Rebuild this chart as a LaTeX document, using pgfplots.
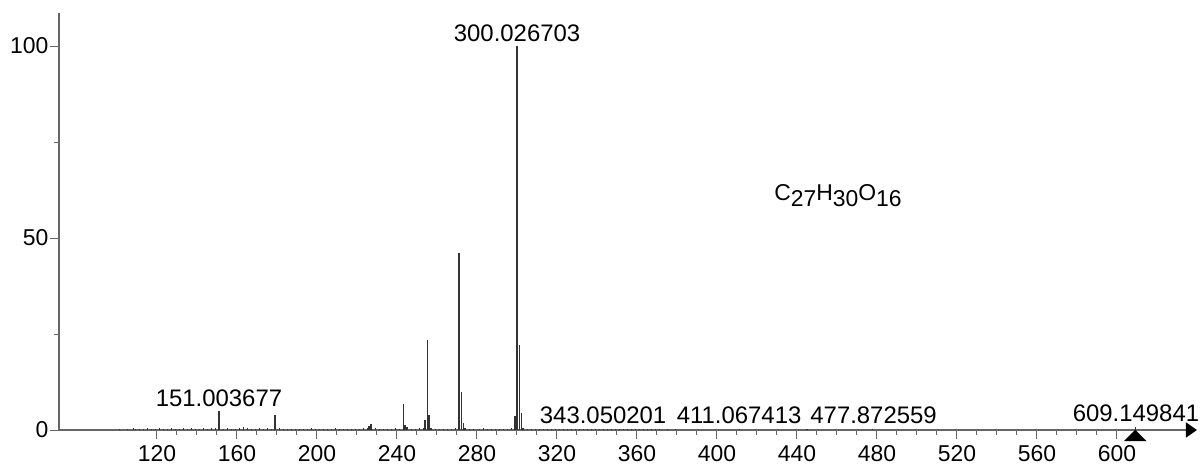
\documentclass[border=0pt]{standalone}
\usepackage{pgfplots}
\pgfplotsset{compat=1.18}
\usepackage{fontspec}
\setmainfont{Liberation Sans}
\usetikzlibrary{arrows.meta}

\begin{document}
\begin{tikzpicture}
\begin{axis}[
  scale only axis, width=1138bp, height=416.6bp,
  xmin=71, xmax=640, ymin=0, ymax=108.5,
  axis x line*=bottom, axis y line*=left,
  axis line style={draw=black!60, line width=1.2bp},
  x axis line style={-{Triangle[length=11bp,width=15bp,color=black]}},
  tick align=outside,
  xtick={120,160,...,600}, minor x tick num=3,
  ytick={0,50,100}, minor ytick={25,75},
  major tick length=9bp, minor tick length=5bp,
  every tick/.style={draw=black!60, line width=1bp},
  tick label style={font=\fontsize{23}{27}\selectfont, inner sep=1.5bp},
  xticklabel style={yshift=-5bp},
  /pgf/number format/assume math mode=true,
  clip=false,
]
% background noise
\addplot[ycomb, black!80, line width=0.7bp, no marks] coordinates {
(101,0.3) (105,0.2) (108,0.4) (109,0.3) (111,0.2) (113,0.3) (115,0.4) (117,0.2) (119,0.3)
(121,0.5) (123,0.3) (125,0.2) (127,0.4) (129,0.3) (131,0.2) (133,0.4) (135,0.3) (137,0.5)
(139,0.2) (141,0.3) (143,0.4) (145,0.3) (147,0.5) (149,0.4) (153,0.3) (155,0.4) (157,0.2)
(159,0.3) (161,0.4) (163,0.9) (165,0.6) (167,0.3) (169,0.2) (171,0.4) (173,0.3) (175,0.4)
(177,0.3) (181,0.4) (183,0.2) (185,0.3) (187,0.2) (189,0.3) (191,0.2) (193,0.3) (195,0.2)
(197,0.4) (199,0.3) (201,0.2) (203,0.3) (205,0.2) (207,0.3) (209,0.4) (211,0.2) (213,0.3)
(215,0.2) (217,0.3) (219,0.2) (221,0.3) (223,0.4) (225,0.5) (229,0.4) (231,0.3) (233,0.2)
(235,0.3) (237,0.2) (239,0.4) (241,0.3) (247,0.3) (249,0.2) (251,0.4) (253,0.5) (259,0.3)
(261,0.2) (263,0.3) (265,0.2) (267,0.3) (269,0.4) (276,0.3) (278,0.2) (281,0.3) (283,0.4)
(285,0.3) (287,0.2) (289,0.3) (291,0.2) (293,0.3) (295,0.2) (297,0.4) (305,0.3) (307,0.2)
(309,0.3) (311,0.2) (313,0.3) (315,0.2) (317,0.3) (319,0.2) (321,0.3) (323,0.2) (325,0.3)
(327,0.2) (329,0.2) (331,0.3) (333,0.2) (335,0.2) (337,0.3) (339,0.2) (341,0.2) (345,0.2)
(347,0.2) (349,0.3) (351,0.2) (353,0.2) (355,0.3) (357,0.2) (359,0.2) (361,0.2) (363,0.3)
(365,0.2) (367,0.2) (369,0.2) (371,0.2) (375,0.2) (379,0.2)
};
% main peaks
\addplot[ycomb, black!80, line width=1.1bp, no marks] coordinates {
(151.004,4.9) (179.0,3.9) (226.0,1.0) (227.0,1.6) (243.03,6.7) (244.0,1.3) (245.0,0.7)
(254.0,2.6) (255.03,23.4) (256.0,3.9) (257.0,0.6) (271.02,46.2) (272.03,9.9) (273.03,1.9)
(274.0,0.4) (299.02,3.6) (300.027,100) (301.03,22.2) (302.03,4.5) (303.0,0.6)
(343.05,0.3) (411.07,0.2) (445.0,0.3) (477.87,0.2) (609.15,0.8)
};
% precursor marker
\addplot[only marks, mark=triangle*, mark size=7.3bp,
  mark options={xscale=1.7, fill=black, draw=black}] coordinates {(609.15,-1.91)};
% labels
\tikzset{pk/.style={anchor=south, yshift=4.5bp, inner sep=0pt, font=\fontsize{24}{28}\selectfont}}
\node[pk] at (axis cs:300.03,100) {300.026703};
\node[pk] at (axis cs:151.0,4.9) {151.003677};
\node[pk] at (axis cs:343.05,0.3) {343.050201};
\node[pk] at (axis cs:411.07,0.3) {411.067413};
\node[pk] at (axis cs:478.3,0.3) {477.872559};
\node[pk] at (axis cs:609.5,0.8) {609.149841};
\node[anchor=base, inner sep=0pt, font=\fontsize{23}{27}\selectfont] at (axis cs:460.5,59.9)
  {C\raisebox{-6bp}{27}H\raisebox{-6bp}{30}O\raisebox{-6bp}{16}};
\end{axis}
\pgfresetboundingbox
\path[use as bounding box] (-59bp,-37bp) rectangle (1143bp,430bp);
\end{tikzpicture}
\end{document}
